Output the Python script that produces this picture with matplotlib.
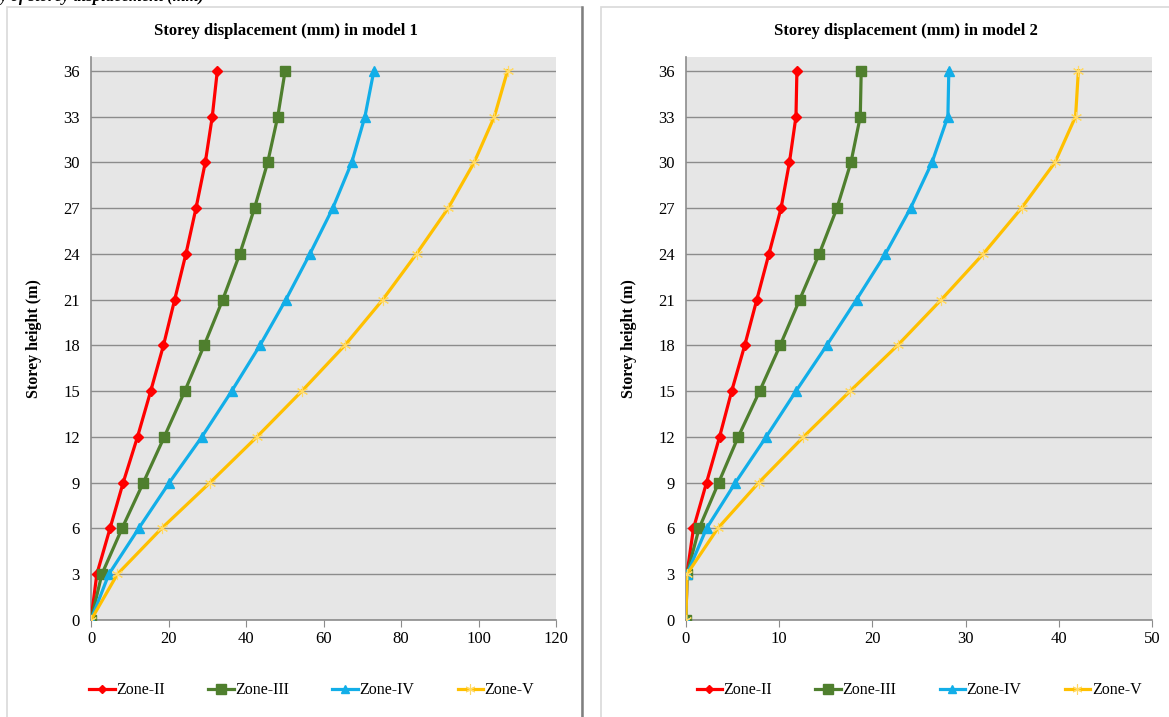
import matplotlib.pyplot as plt
from matplotlib.patches import Rectangle

plt.rcParams['font.family'] = ['Liberation Serif', 'DejaVu Serif']

storey = [0, 3, 6, 9, 12, 15, 18, 21, 24, 27, 30, 33, 36]
zones = ['Zone-II', 'Zone-III', 'Zone-IV', 'Zone-V']

# model 1 displacement (mm)
m1_z2 = [0, 1.5, 4.9, 8.3, 12.0, 15.4, 18.7, 21.6, 24.5, 27.1, 29.5, 31.3, 32.6]
m1_z3 = [0, 2.8, 8.0, 13.5, 18.9, 24.2, 29.2, 34.0, 38.4, 42.2, 45.6, 48.2, 50.1]
m1_z4 = [0, 4.6, 12.3, 20.2, 28.6, 36.3, 43.6, 50.3, 56.5, 62.4, 67.3, 70.7, 73.0]
m1_z5 = [0, 6.8, 18.2, 30.7, 42.8, 54.4, 65.5, 75.3, 84.0, 92.2, 98.9, 104.1, 107.5]

# model 2 displacement (mm)
m2_z2 = [0, 0.1, 0.8, 2.2, 3.6, 4.9, 6.3, 7.6, 8.9, 10.2, 11.1, 11.8, 11.9]
m2_z3 = [0, 0.1, 1.4, 3.5, 5.6, 7.9, 10.1, 12.2, 14.3, 16.2, 17.7, 18.7, 18.8]
m2_z4 = [0, 0.1, 2.2, 5.3, 8.6, 11.8, 15.1, 18.3, 21.4, 24.1, 26.4, 28.1, 28.2]
m2_z5 = [0, 0.1, 3.4, 7.8, 12.6, 17.6, 22.7, 27.4, 31.9, 36.0, 39.6, 41.8, 42.1]

colors = ['#ff0000', '#4f7f2e', '#12aee8', '#ffc000']
markers = ['D', 's', '^', (6, 2, 0)]
msizes = [5, 7.5, 7, 8]

fig = plt.figure(figsize=(11.69, 7.17), dpi=100)
W, H = 1169, 717

# panel frames
fig.patches.append(Rectangle((7 / W, -0.01), 575 / W, 1 - 7 / H + 0.01, transform=fig.transFigure,
                             facecolor='white', edgecolor='#d9d9d9', lw=1.2, zorder=-2))
fig.add_artist(plt.Line2D([582 / W, 582 / W], [0, 1 - 7 / H], transform=fig.transFigure,
                          color='#7f7f7f', lw=1.8))
fig.patches.append(Rectangle((601 / W, -0.01), 0.5, 1 - 7 / H + 0.01, transform=fig.transFigure,
                             facecolor='white', edgecolor='#d9d9d9', lw=1.2, zorder=-2))

# caption line cut off at the top of the image
fig.text(0.0, 1.004, 'y of storey displacement (mm)', fontsize=12, fontweight='bold',
         fontstyle='italic', va='center', ha='left')


def draw(ax, data, xmax, step, title, title_x, leg_x):
    ax.set_facecolor('#e6e6e6')
    for vals, c, m, ms, lab in zip(data, colors, markers, msizes, zones):
        if lab == 'Zone-V':
            ax.plot(vals, storey, color=c, lw=2.3, marker=m, ms=ms, mew=0.8,
                    mec='#ffd966', label=lab, zorder=3)
        else:
            ax.plot(vals, storey, color=c, lw=2.3, marker=m, ms=ms, label=lab, zorder=3)
    ax.set_xlim(0, xmax)
    ax.set_ylim(0, 36.9)
    ax.set_xticks(range(0, xmax + 1, step))
    ax.set_yticks(storey)
    ax.grid(axis='y', color='#8c8c8c', lw=1.0)
    ax.set_axisbelow(True)
    for s in ['top', 'right']:
        ax.spines[s].set_visible(False)
    for s in ['left', 'bottom']:
        ax.spines[s].set_color('#8c8c8c')
        ax.spines[s].set_linewidth(1.2)
    ax.tick_params(axis='y', length=0, labelsize=12, pad=8)
    ax.tick_params(axis='x', length=5, color='#8c8c8c', labelsize=12, pad=3)
    ax.set_ylabel('Storey height (m)', fontsize=11.5, fontweight='bold', labelpad=15)
    ax.set_title(title, fontsize=12, fontweight='bold', pad=16, x=title_x)
    ax.legend(loc='upper center', bbox_to_anchor=(leg_x, -0.085), ncol=4, frameon=False,
              fontsize=11.5, handlelength=1.6, handletextpad=0.1, columnspacing=2.7,
              markerscale=0.9)


ax1 = fig.add_axes([91 / W, 1 - 620 / H, 465 / W, 563 / H])
draw(ax1, [m1_z2, m1_z3, m1_z4, m1_z5], 120, 20, 'Storey displacement (mm) in model 1',
     0.42, 0.475)

ax2 = fig.add_axes([686 / W, 1 - 620 / H, 466 / W, 563 / H])
draw(ax2, [m2_z2, m2_z3, m2_z4, m2_z5], 50, 10, 'Storey displacement (mm) in model 2',
     0.472, 0.5)

fig.savefig('out.png', dpi=100)
